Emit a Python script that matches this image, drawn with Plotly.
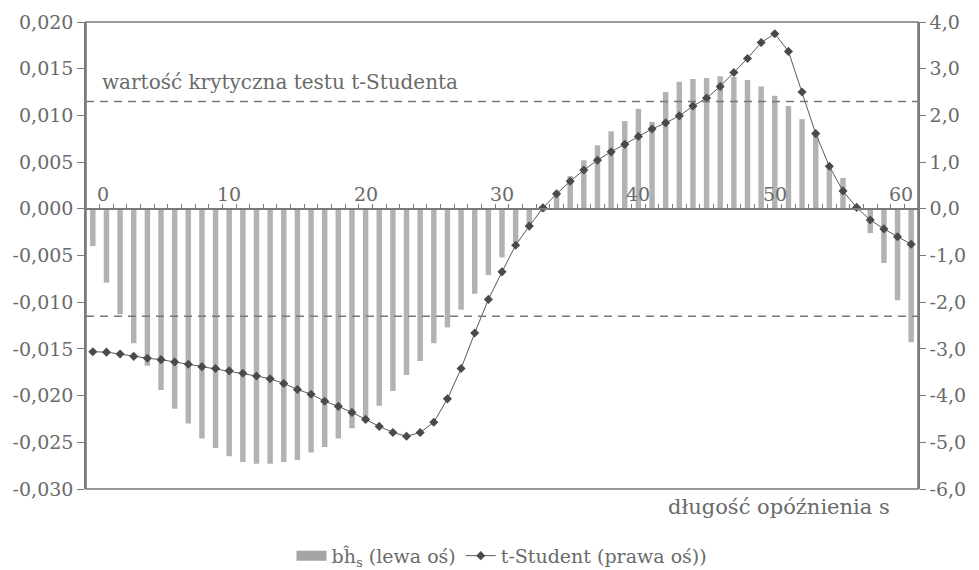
import plotly.graph_objects as go

# ---------------- data ----------------
lags = list(range(61))

bh_s = [
    -0.0040, -0.0079, -0.0113, -0.0144, -0.0168, -0.0194, -0.0214, -0.0230, -0.0246, -0.0256,
    -0.0265, -0.0271, -0.0273, -0.0273, -0.0271, -0.0269, -0.0261, -0.0255, -0.0246, -0.0235,
    -0.0226, -0.0211, -0.0195, -0.0178, -0.0163, -0.0144, -0.0127, -0.0108, -0.0091, -0.0071,
    -0.0052, -0.0036, -0.0020, -0.0003, 0.0017, 0.0035, 0.0052, 0.0068, 0.0083, 0.0094,
    0.0107, 0.0093, 0.0125, 0.0136, 0.0139, 0.0140, 0.0142, 0.0141, 0.0138, 0.0131,
    0.0121, 0.0110, 0.0096, 0.0083, 0.0047, 0.0033, 0.0003, -0.0026, -0.0058, -0.0098,
    -0.0143,
]

t_student = [
    -3.06, -3.07, -3.11, -3.16, -3.20, -3.23, -3.28, -3.33, -3.38, -3.42,
    -3.47, -3.52, -3.58, -3.64, -3.74, -3.87, -3.97, -4.12, -4.23, -4.36,
    -4.51, -4.66, -4.79, -4.87, -4.79, -4.57, -4.07, -3.42, -2.66, -1.94,
    -1.35, -0.78, -0.37, 0.02, 0.32, 0.59, 0.83, 1.04, 1.22, 1.38,
    1.55, 1.71, 1.84, 1.99, 2.20, 2.37, 2.62, 2.92, 3.22, 3.56,
    3.75, 3.37, 2.50, 1.61, 0.91, 0.38, 0.03, -0.24, -0.43, -0.60,
    -0.76,
]

critical_t = 2.3

x_label_vals = [0, 10, 20, 30, 40, 50, 60]

left_tick_vals = [0.020, 0.015, 0.010, 0.005, 0.000, -0.005, -0.010, -0.015, -0.020, -0.025, -0.030]
left_tick_text = ["0,020", "0,015", "0,010", "0,005", "0,000", "-0,005", "-0,010", "-0,015",
                  "-0,020", "-0,025", "-0,030"]

right_tick_vals = [4, 3, 2, 1, 0, -1, -2, -3, -4, -5, -6]
right_tick_text = ["4,0", "3,0", "2,0", "1,0", "0,0", "-1,0", "-2,0", "-3,0", "-4,0", "-5,0", "-6,0"]

bar_name = "bĥ<sub>s</sub> (lewa oś)"
line_name = "t-Student (prawa oś))"
crit_label = "wartość krytyczna testu t-Studenta"
x_title = "długość opóźnienia s"

# ---------------- style ----------------
FONT = "DejaVu Serif, Liberation Serif, serif"
TXT = "#6a6a6a"
AX = "#7a7a7a"
FS_TICK = 19
BAR_COLOR = "#b2b2b2"

left_min, left_max = -0.030, 0.020
zero_pos = (0 - left_min) / (left_max - left_min)

fig = go.Figure()

fig.add_trace(go.Bar(
    x=lags, y=bh_s, name=bar_name, yaxis="y", showlegend=False,
    marker=dict(color=BAR_COLOR, line=dict(width=0)),
    width=0.4,
))

# legend-only entry giving the wide swatch of the bar series
fig.add_trace(go.Scatter(
    x=[None], y=[None], name=bar_name, mode="lines",
    line=dict(color="#a5a5a5", width=13), showlegend=True,
))

fig.add_trace(go.Scatter(
    x=lags, y=t_student, name=line_name, yaxis="y2",
    mode="lines+markers",
    line=dict(color="#5a5a5a", width=1),
    marker=dict(symbol="diamond", size=7, color="#4a4a4a"),
))

# critical value lines (right axis)
for v in (critical_t, -critical_t):
    fig.add_shape(type="line", xref="paper", yref="y2", x0=0.0, x1=1.0, y0=v, y1=v,
                  line=dict(color="#777777", width=1.5, dash="8px,6px"), layer="above")

# frame
fig.add_shape(type="rect", xref="paper", yref="paper", x0=0, x1=1, y0=0, y1=1,
              line=dict(color=AX, width=1.5), layer="above")

annotations = []
for v in x_label_vals:
    anchor = "center"
    xs = 0
    if v == x_label_vals[0]:
        anchor, xs = "left", 2
    elif v == x_label_vals[-1]:
        anchor, xs = "right", 4
    annotations.append(dict(x=v, y=0, xref="x", yref="y", text=str(v), showarrow=False,
                            xanchor=anchor, yanchor="bottom", yshift=2, xshift=xs,
                            font=dict(family=FONT, size=FS_TICK, color=TXT)))

annotations.append(dict(x=0.017, y=critical_t, xref="paper", yref="y2", text=crit_label,
                        showarrow=False, xanchor="left", yanchor="bottom", yshift=5,
                        font=dict(family=FONT, size=20, color=TXT)))
annotations.append(dict(x=0.969, y=0, xref="paper", yref="paper", text=x_title,
                        showarrow=False, xanchor="right", yanchor="top", yshift=-4,
                        font=dict(family=FONT, size=21, color=TXT)))

fig.update_layout(
    width=979, height=570,
    margin=dict(l=86, r=61, t=22, b=81, autoexpand=False),
    paper_bgcolor="white", plot_bgcolor="white",
    font=dict(family=FONT, size=FS_TICK, color=TXT),
    showlegend=True,
    legend=dict(orientation="h", x=0.5, xanchor="center", y=-0.143, yanchor="middle",
                font=dict(family=FONT, size=19, color=TXT), itemwidth=30,
                bgcolor="rgba(0,0,0,0)"),
    xaxis=dict(range=[-0.5, 60.5], anchor="free", position=zero_pos,
               showline=True, linecolor=AX, linewidth=1.5,
               tickvals=[l + 0.5 for l in lags[:-1]], ticks="inside", ticklen=4,
               tickcolor=AX, showticklabels=False, showgrid=False, zeroline=False),
    yaxis=dict(range=[left_min, left_max], tickvals=left_tick_vals, ticktext=left_tick_text,
               ticks="outside", ticklen=7, tickcolor=AX, showline=True, linecolor=AX,
               linewidth=1.5, showgrid=False, zeroline=False, automargin=False,
               tickfont=dict(family=FONT, size=FS_TICK, color=TXT)),
    yaxis2=dict(range=[-6, 4], overlaying="y", side="right", anchor="x",
                tickvals=right_tick_vals, ticktext=right_tick_text,
                ticks="outside", ticklen=6, tickcolor=AX, showline=True, linecolor=AX,
                linewidth=1.5, showgrid=False, zeroline=False, automargin=False,
                tickfont=dict(family=FONT, size=FS_TICK, color=TXT)),
    annotations=annotations,
)

fig.write_html("out.html", config={"displayModeBar": False},
               post_script="document.body.style.margin='0';")
